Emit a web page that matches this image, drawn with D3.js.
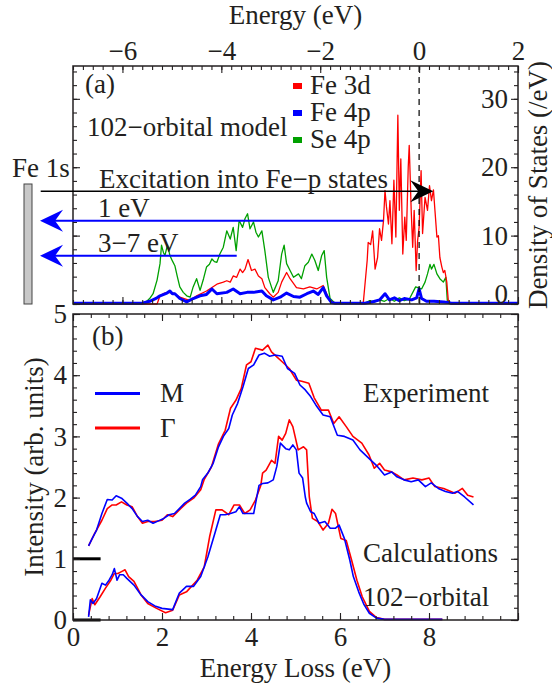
<!DOCTYPE html>
<html><head><meta charset="utf-8">
<script src="https://cdn.jsdelivr.net/npm/d3@7"></script>
<style>
html,body{margin:0;padding:0;background:#fff;}
svg{display:block;}
</style></head><body>
<svg id="chart" width="552" height="683"></svg>
<script>
// ---------------- DATA ----------------
// Panel (a): density of states, [energy (eV), DOS (/eV)]
const se4p = [[-7,0.05],[-5.6,0.05],[-5.54,0.2],[-5.45,0.8],[-5.38,1.5],[-5.3,3.5],[-5.24,5.9],[-5.21,8.6],[-5.17,7.5],[-5.14,7.1],[-5.09,8.6],[-5.04,7.1],[-4.99,6.3],[-4.94,5.6],[-4.89,4.0],[-4.84,2.5],[-4.77,1.7],[-4.70,1.2],[-4.63,1.0],[-4.57,2.5],[-4.50,3.7],[-4.43,2.0],[-4.36,3.7],[-4.30,5.4],[-4.24,5.8],[-4.19,6.6],[-4.14,6.2],[-4.09,6.1],[-4.03,7.3],[-3.96,8.3],[-3.89,10.7],[-3.82,9.5],[-3.76,11.2],[-3.70,7.8],[-3.64,12.2],[-3.57,11.2],[-3.52,12.5],[-3.47,13.2],[-3.42,11.0],[-3.35,12.0],[-3.30,10.5],[-3.25,9.8],[-3.18,10.7],[-3.12,7.8],[-3.05,3.9],[-2.95,1.7],[-2.85,3.4],[-2.78,7.3],[-2.73,8.6],[-2.68,5.9],[-2.61,4.9],[-2.54,3.9],[-2.44,4.4],[-2.38,3.7],[-2.31,5.6],[-2.24,6.1],[-2.17,7.3],[-2.11,6.4],[-2.04,4.9],[-1.97,7.1],[-1.92,7.8],[-1.87,3.9],[-1.80,0.8],[-1.70,0.1],[-1.1,0.1],[-1.0,0.5],[-0.9,0.3],[-0.8,0.6],[-0.7,0.4],[-0.6,0.8],[-0.5,0.4],[-0.4,0.9],[-0.3,0.5],[-0.2,0.7],[-0.07,2.5],[0.05,2.2],[0.12,3.2],[0.17,4.4],[0.22,5.8],[0.25,5.1],[0.30,5.8],[0.36,4.4],[0.42,3.7],[0.49,3.2],[0.54,3.9],[0.57,0.5],[0.62,0.05],[2,0.05]];
const fe3d = [[-7,0],[-5.3,0],[-5.24,1.2],[-5.15,1.6],[-5.04,1.7],[-4.94,1.5],[-4.84,1.0],[-4.63,0.5],[-4.5,1.2],[-4.3,1.9],[-4.19,2.4],[-4.09,2.9],[-3.96,3.2],[-3.89,3.4],[-3.82,3.2],[-3.76,4.1],[-3.69,3.9],[-3.62,5.1],[-3.57,4.6],[-3.52,5.1],[-3.46,6.5],[-3.39,4.9],[-3.32,5.1],[-3.25,4.1],[-3.18,3.7],[-3.12,2.4],[-3.02,1.5],[-2.95,1.0],[-2.85,1.7],[-2.78,3.2],[-2.68,4.6],[-2.61,3.7],[-2.48,2.4],[-2.34,2.2],[-2.21,2.5],[-2.07,2.2],[-1.94,2.7],[-1.87,1.5],[-1.8,0.5],[-1.7,0.05],[-1.13,0.1],[-1.05,6.4],[-1.03,9.0],[-0.98,8.7],[-0.94,10.7],[-0.89,5.1],[-0.84,6.8],[-0.80,11.0],[-0.76,9.3],[-0.72,12.2],[-0.69,16.6],[-0.66,14.2],[-0.62,11.7],[-0.59,15.1],[-0.55,8.8],[-0.51,18.1],[-0.47,9.8],[-0.43,27.6],[-0.40,13.7],[-0.37,21.2],[-0.33,7.3],[-0.29,12.7],[-0.26,9.3],[-0.22,20.0],[-0.20,23.2],[-0.16,13.7],[-0.13,8.3],[-0.10,13.7],[-0.06,4.9],[-0.03,9.3],[0,11.2],[0.04,19.5],[0.07,10.3],[0.12,15.6],[0.17,13.7],[0.21,17.3],[0.25,15.1],[0.29,16.7],[0.32,13.7],[0.36,9.8],[0.39,10.0],[0.42,6.8],[0.46,5.4],[0.49,4.6],[0.52,4.9],[0.56,3.2],[0.59,0.5],[0.65,0],[2,0]];
const fe4p = [[-7,0.1],[-5.6,0.1],[-5.45,0.4],[-5.3,0.9],[-5.24,1.2],[-5.1,1.6],[-5.04,1.9],[-4.99,1.5],[-4.94,1.5],[-4.84,0.8],[-4.7,0.3],[-4.57,0.8],[-4.43,1.2],[-4.3,1.4],[-4.19,2.2],[-4.09,1.5],[-3.89,1.7],[-3.76,2.2],[-3.62,1.5],[-3.48,1.7],[-3.35,1.7],[-3.18,1.9],[-3.09,1.2],[-2.95,0.6],[-2.81,1.0],[-2.68,1.6],[-2.54,1.1],[-2.41,1.0],[-2.27,1.5],[-2.14,1.9],[-2.04,1.4],[-1.94,2.4],[-1.87,1.2],[-1.77,0.2],[-1.7,0.1],[-1.1,0.1],[-0.95,0.3],[-0.8,0.6],[-0.69,1.5],[-0.6,0.6],[-0.5,0.9],[-0.4,0.5],[-0.3,0.8],[-0.15,0.6],[-0.05,0.9],[0.0,2.2],[0.05,0.8],[0.15,0.4],[0.3,0.4],[0.5,0.3],[0.6,0.2],[0.65,0.1],[2,0.1]];
const dosSeries = [
  {name:"Se 4p", data:se4p, color:"#00a000", width:1.3},
  {name:"Fe 3d", data:fe3d, color:"#ff0000", width:1.3},
  {name:"Fe 4p", data:fe4p, color:"#0000ff", width:3}
];
const dosLegend = ["Fe 3d","Fe 4p","Se 4p"];
const dosLegendColors = ["#ff0000","#0000ff","#00a000"];

// Panel (b): RIXS intensity, [energy loss (eV), intensity]
const expM = [[0.35,1.21],[0.43,1.33],[0.53,1.47],[0.65,1.74],[0.77,1.97],[0.88,1.96],[0.97,2.03],[1.09,1.99],[1.21,1.91],[1.33,1.82],[1.45,1.69],[1.56,1.61],[1.68,1.63],[1.80,1.58],[1.92,1.62],[2.04,1.66],[2.16,1.72],[2.28,1.74],[2.39,1.82],[2.51,1.91],[2.63,1.97],[2.75,2.04],[2.87,2.18],[2.91,2.29],[3.03,2.40],[3.15,2.56],[3.27,2.83],[3.38,3.00],[3.50,3.13],[3.58,3.35],[3.70,3.54],[3.82,3.81],[3.94,4.11],[4.06,4.17],[4.18,4.33],[4.30,4.36],[4.42,4.31],[4.54,4.33],[4.70,4.31],[4.82,4.11],[4.98,4.03],[5.10,3.84],[5.22,3.76],[5.34,3.65],[5.46,3.51],[5.62,3.35],[5.78,3.32],[5.94,3.02],[6.10,3.00],[6.29,2.94],[6.45,2.78],[6.65,2.64],[6.84,2.51],[7.00,2.37],[7.16,2.42],[7.28,2.34],[7.44,2.29],[7.60,2.26],[7.76,2.29],[7.92,2.18],[8.05,2.24],[8.21,2.15],[8.37,2.10],[8.53,2.07],[8.64,2.10],[8.80,2.01],[9.0,1.88]];
const expG = [[0.35,1.21],[0.49,1.42],[0.65,1.63],[0.77,1.82],[0.88,1.88],[0.97,1.88],[1.09,1.93],[1.21,1.88],[1.33,1.85],[1.45,1.69],[1.56,1.58],[1.68,1.61],[1.84,1.61],[2.0,1.63],[2.12,1.72],[2.24,1.69],[2.39,1.80],[2.55,1.91],[2.71,1.99],[2.87,2.13],[2.95,2.30],[3.11,2.50],[3.27,2.88],[3.42,3.10],[3.54,3.46],[3.66,3.59],[3.78,3.78],[3.90,4.17],[4.0,4.22],[4.10,4.44],[4.26,4.41],[4.38,4.49],[4.46,4.38],[4.58,4.30],[4.70,4.22],[4.86,4.11],[5.02,3.92],[5.14,3.90],[5.30,3.87],[5.42,3.63],[5.58,3.43],[5.74,3.43],[5.86,3.21],[5.98,3.32],[6.14,3.16],[6.29,3.00],[6.49,2.89],[6.65,2.70],[6.77,2.48],[6.89,2.56],[7.0,2.45],[7.16,2.42],[7.28,2.37],[7.44,2.29],[7.64,2.32],[7.84,2.29],[8.0,2.32],[8.13,2.18],[8.33,2.15],[8.49,2.10],[8.58,2.07],[8.75,2.15],[8.87,2.04],[9.0,2.01]];
const calcM = [[0.35,0.05],[0.39,0.33],[0.45,0.27],[0.53,0.35],[0.65,0.60],[0.73,0.57],[0.81,0.65],[0.88,0.74],[0.93,0.84],[0.99,0.65],[1.05,0.74],[1.13,0.74],[1.21,0.68],[1.37,0.57],[1.53,0.41],[1.68,0.30],[1.84,0.23],[2.0,0.19],[2.24,0.17],[2.39,0.44],[2.55,0.55],[2.71,0.55],[2.87,0.71],[3.03,1.03],[3.19,1.42],[3.31,1.72],[3.42,1.72],[3.54,1.74],[3.66,1.77],[3.74,1.85],[3.82,1.74],[4.06,1.74],[4.18,2.20],[4.26,2.23],[4.38,2.24],[4.50,2.29],[4.58,2.51],[4.66,2.89],[4.78,2.80],[4.86,2.78],[4.94,2.86],[5.02,2.78],[5.08,2.40],[5.16,2.32],[5.22,2.01],[5.25,1.91],[5.34,1.77],[5.42,1.74],[5.53,1.58],[5.66,1.61],[5.78,1.50],[5.90,1.50],[5.98,1.55],[6.10,1.33],[6.22,0.98],[6.30,0.71],[6.42,0.46],[6.54,0.25],[6.66,0.11],[6.82,0.03],[7.0,0.01],[8.3,0.01]];
const calcG = [[0.35,0.08],[0.43,0.35],[0.49,0.25],[0.61,0.38],[0.73,0.52],[0.85,0.65],[0.93,0.76],[1.01,0.76],[1.09,0.79],[1.17,0.82],[1.25,0.71],[1.37,0.63],[1.53,0.41],[1.68,0.27],[1.88,0.19],[2.08,0.12],[2.24,0.16],[2.39,0.41],[2.55,0.46],[2.79,0.65],[2.95,0.87],[3.07,1.36],[3.21,1.80],[3.35,1.80],[3.50,1.72],[3.62,1.88],[3.74,1.88],[3.86,1.74],[3.98,1.80],[4.10,1.96],[4.22,2.20],[4.26,2.40],[4.34,2.45],[4.46,2.61],[4.54,2.56],[4.62,3.00],[4.70,2.94],[4.78,3.05],[4.86,3.27],[4.94,3.16],[5.06,2.78],[5.18,2.83],[5.25,2.78],[5.31,2.01],[5.38,1.66],[5.50,1.61],[5.62,1.47],[5.74,1.58],[5.82,1.81],[5.90,1.74],[6.02,1.33],[6.14,1.30],[6.26,0.98],[6.38,0.65],[6.50,0.38],[6.66,0.14],[6.82,0.04],[7.0,0.01],[8.3,0.01]];
const rixsSeries = [
  {data:expG, color:"#ff0000"},{data:expM, color:"#0000ff"},
  {data:calcG, color:"#ff0000"},{data:calcM, color:"#0000ff"}
];
const rixsLegend = ["M","Γ"];
const rixsLegendColors = ["#0000ff","#ff0000"];

// Tick values
const aTopMajor = [-6,-4,-2,0,2];
const aTopMinor = d3.range(-7,2.001,0.2).map(v=>+v.toFixed(2));
const aYMajor = [0,10,20,30];
const aYMinor = d3.range(0,34.8,2);
const bXMajor = [0,2,4,6,8];
const bXAll = [0,2,4,6,8,10];
const bXMinor = d3.range(0,10.001,0.4).map(v=>+v.toFixed(2));
const bYMajor = [0,1,2,3,4,5];
const bYMinor = d3.range(0,5.001,0.2).map(v=>+v.toFixed(2));

// ---------------- LAYOUT ----------------
const FS = 27, FONT = '"Liberation Serif","Times New Roman",serif', INK = "#231f20";
const svg = d3.select("#chart");
const A = {l:73, r:518, t:66, b:304};
const B = {l:73, r:518, t:314, b:620};
const xa = d3.scaleLinear().domain([-7,2]).range([A.l,A.r]);
const ya = d3.scaleLinear().domain([0,34.8]).range([A.b,A.t]);
const xb = d3.scaleLinear().domain([0,10]).range([B.l,B.r]);
const yb = d3.scaleLinear().domain([0,5]).range([B.b,B.t]);

function txt(x,y,s,opt={}){
  const t = svg.append("text").attr("x",x).attr("y",y).text(s)
    .attr("font-family",FONT).attr("font-size",opt.fs||FS).attr("fill",INK);
  if(opt.anchor) t.attr("text-anchor",opt.anchor);
  if(opt.rotate) t.attr("transform",`rotate(${opt.rotate},${x},${y})`);
  return t;
}
function styleAxis(g){
  g.select(".domain").remove();
  g.attr("font-family",FONT).attr("font-size",FS);
  g.selectAll("line").attr("stroke",INK).attr("stroke-width",1.1);
  g.selectAll("text").attr("fill",INK);
  return g;
}
function axis(gen, tr, vals, size, fmt, pad){
  const g = svg.append("g").attr("transform",tr)
    .call(gen.tickValues(vals).tickSize(size).tickPadding(pad||3).tickFormat(fmt||(()=>"")));
  return styleAxis(g);
}
const fmt = d3.format("");

// ---------------- PANEL (a) ----------------
const lineA = d3.line().x(d=>xa(d[0])).y(d=>ya(d[1]));
dosSeries.forEach(s=>{
  svg.append("path").datum(s.data).attr("d",lineA).attr("fill","none")
    .attr("stroke",s.color).attr("stroke-width",s.width).attr("stroke-linejoin","round");
});
// Fermi level
svg.append("line").attr("x1",xa(0)).attr("x2",xa(0)).attr("y1",A.t).attr("y2",A.b)
  .attr("stroke","#000").attr("stroke-width",1.2).attr("stroke-dasharray","6,5");

// axes (a)
axis(d3.axisTop(xa), `translate(0,${A.t})`, aTopMinor, -4);
axis(d3.axisTop(xa), `translate(0,${A.t})`, aTopMajor, -7, fmt, 6);
axis(d3.axisBottom(xa), `translate(0,${A.b})`, aTopMinor, -4);
axis(d3.axisBottom(xa), `translate(0,${A.b})`, aTopMajor, -7);
axis(d3.axisRight(ya), `translate(${A.l},0)`, aYMinor, 4);
axis(d3.axisRight(ya), `translate(${A.l},0)`, aYMajor, 7);
axis(d3.axisLeft(ya), `translate(${A.r},0)`, aYMinor, 4);
const gRa = axis(d3.axisLeft(ya), `translate(${A.r},0)`, aYMajor, 7, fmt, 3);
gRa.selectAll("text").filter(d=>d===0).attr("dy",-2);
svg.append("rect").attr("x",A.l).attr("y",A.t).attr("width",A.r-A.l).attr("height",A.b-A.t)
  .attr("fill","none").attr("stroke",INK).attr("stroke-width",1.5);

// texts (a)
txt((A.l+A.r)/2, 24, "Energy (eV)", {anchor:"middle"});
txt(85, 93, "(a)");
txt(87, 136, "102−orbital model");
dosLegend.forEach((n,i)=>{
  svg.append("rect").attr("x",293).attr("y",83+i*27).attr("width",9).attr("height",6).attr("fill",dosLegendColors[i]);
  txt(310, 94+i*27, n);
});
txt(547, (A.t+A.b)/2, "Density of States (/eV)", {anchor:"middle", rotate:-90});

// Fe 1s core level and excitation arrows
txt(12, 177, "Fe 1s");
svg.append("rect").attr("x",24).attr("y",184).attr("width",8).attr("height",A.b-184)
  .attr("fill","#c8c8c8").attr("stroke","#444").attr("stroke-width",1);

function arrowHead(tx,ty,dir,color){
  const L=23, h=11, n=15;
  const p = `M${tx},${ty}L${tx-dir*L},${ty-h}L${tx-dir*n},${ty}L${tx-dir*L},${ty+h}Z`;
  svg.append("path").attr("d",p).attr("fill",color);
}
const coreE = -7.653;
// excitation into Fe-p states
const exY = ya(16.5), exTip = xa(0.287);
svg.append("line").attr("x1",xa(coreE)).attr("x2",exTip-12).attr("y1",exY).attr("y2",exY)
  .attr("stroke","#000").attr("stroke-width",1.5);
arrowHead(exTip, exY, 1, "#000");
txt(99, 188, "Excitation into Fe−p states");
// decays
[{from:-0.724, v:12.18, label:"1 eV", ty:217},{from:-3.689, v:7.06, label:"3−7 eV", ty:252}].forEach(a=>{
  const y = ya(a.v), tip = xa(-7.667);
  svg.append("line").attr("x1",xa(a.from)).attr("x2",tip+12).attr("y1",y).attr("y2",y)
    .attr("stroke","#0000ff").attr("stroke-width",2);
  arrowHead(tip, y, -1, "#0000ff");
  txt(98, a.ty, a.label);
});

// ---------------- PANEL (b) ----------------
const lineB = d3.line().x(d=>xb(d[0])).y(d=>yb(d[1]));
rixsSeries.forEach(s=>{
  svg.append("path").datum(s.data).attr("d",lineB).attr("fill","none")
    .attr("stroke",s.color).attr("stroke-width",1.6).attr("stroke-linejoin","round");
});
// baseline markers
[0,1].forEach(v=>{
  svg.append("line").attr("x1",xb(0)).attr("x2",xb(0.62)).attr("y1",yb(v)).attr("y2",yb(v))
    .attr("stroke","#000").attr("stroke-width",3);
});
axis(d3.axisTop(xb), `translate(0,${B.t})`, bXMinor, -4);
axis(d3.axisTop(xb), `translate(0,${B.t})`, bXAll, -7);
axis(d3.axisBottom(xb), `translate(0,${B.b})`, bXMinor, -4);
axis(d3.axisBottom(xb), `translate(0,${B.b})`, bXAll, -7);
axis(d3.axisBottom(xb), `translate(0,${B.b})`, bXMajor, 0, fmt, 7).selectAll("line").remove();
axis(d3.axisLeft(yb), `translate(${B.l},0)`, bYMinor, -4);
axis(d3.axisLeft(yb), `translate(${B.l},0)`, bYMajor, -7, fmt, 6);
axis(d3.axisRight(yb), `translate(${B.r},0)`, bYMinor, -4);
axis(d3.axisRight(yb), `translate(${B.r},0)`, bYMajor, -7);
svg.append("rect").attr("x",B.l).attr("y",B.t).attr("width",B.r-B.l).attr("height",B.b-B.t)
  .attr("fill","none").attr("stroke",INK).attr("stroke-width",1.5);

txt(92, 345, "(b)");
rixsLegend.forEach((n,i)=>{
  const y = 393.5 + i*34.5;
  svg.append("line").attr("x1",95).attr("x2",140).attr("y1",y).attr("y2",y)
    .attr("stroke",rixsLegendColors[i]).attr("stroke-width",3);
  txt(160, y+8.5, n);
});
txt(363, 402, "Experiment");
txt(363, 562, "Calculations");
txt(363, 606, "102−orbital");
txt((B.l+B.r)/2, 677, "Energy Loss (eV)", {anchor:"middle"});
txt(43, (B.t+B.b)/2, "Intensity (arb. units)", {anchor:"middle", rotate:-90});
</script></body></html>
